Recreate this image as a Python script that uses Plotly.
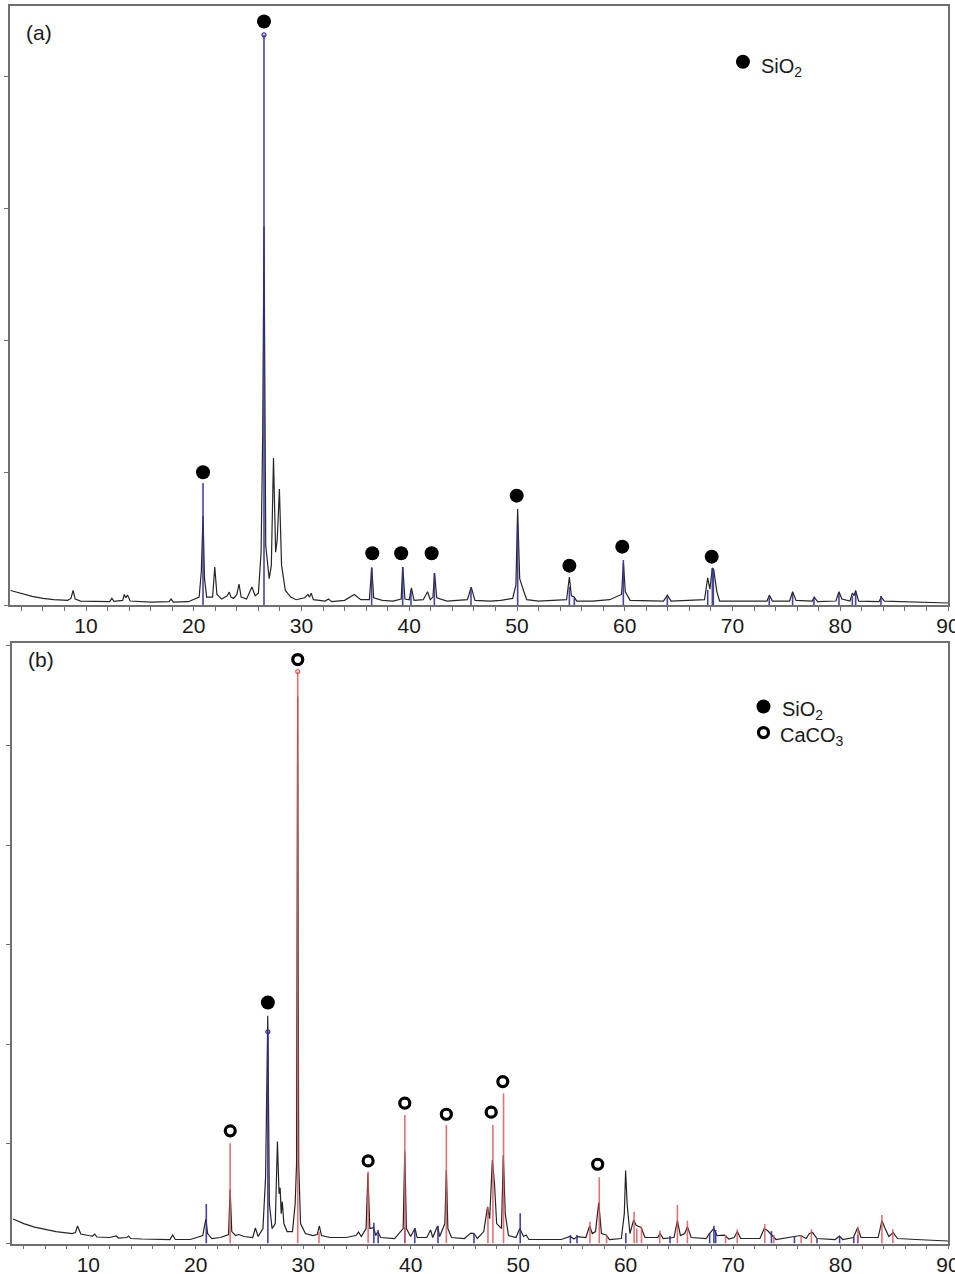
import plotly.graph_objects as go

# ---------------- Panel (a) data ----------------
PROFILE_A_2THETA = [
    3.0, 4.0, 5.0, 6.0, 7.0, 8.3, 8.6, 8.8, 9.0, 9.5,
    11.0, 12.2, 12.4, 12.6, 13.4, 13.55, 13.7, 13.85, 14.1, 16.0,
    17.7, 17.9, 18.1, 19.5, 20.5, 20.7, 20.86, 21.0, 21.2, 21.75,
    21.95, 22.15, 22.6, 23.1, 23.3, 23.45, 23.7, 24.0, 24.2, 24.4,
    24.9, 25.4, 25.7, 26.0, 26.25, 26.4, 26.52, 26.68, 27.0, 27.2,
    27.4, 27.6, 27.75, 27.95, 28.15, 28.5, 29.0, 29.5, 30.3, 30.6,
    30.75, 30.9, 31.1, 32.2, 32.5, 32.8, 34.0, 34.9, 35.5, 36.3,
    36.52, 36.7, 37.5, 38.5, 39.25, 39.4, 39.6, 40.0, 40.2, 40.45,
    41.3, 41.7, 41.95, 42.2, 42.35, 42.55, 43.5, 45.4, 45.75, 46.1,
    47.5, 48.5, 49.6, 49.9, 50.06, 50.25, 50.6, 50.9, 52.0, 54.6,
    54.86, 55.05, 55.3, 55.55, 57.0, 58.6, 59.7, 59.88, 60.05, 60.5,
    63.6, 63.95, 64.3, 67.4, 67.7, 67.9, 68.13, 68.25, 68.55, 68.8,
    73.2, 73.42, 73.7, 75.3, 75.58, 75.9, 77.4, 77.58, 77.9, 79.6,
    79.88, 80.15, 80.9, 81.12, 81.28, 81.43, 81.7, 83.6, 83.8, 84.1,
    90.0,
]
PROFILE_A_COUNTS = [
    110, 85, 65, 50, 40, 35, 50, 110, 45, 30,
    25, 25, 50, 28, 35, 80, 55, 75, 30, 22,
    25, 45, 22, 25, 60, 250, 674, 200, 60, 60,
    288, 80, 45, 70, 98, 60, 50, 80, 159, 60,
    45, 136, 70, 90, 400, 1300, 2864, 450, 200, 300,
    1114, 400, 500, 879, 300, 110, 60, 40, 55, 80,
    60, 90, 40, 30, 45, 25, 35, 80, 40, 40,
    285, 55, 35, 30, 45, 288, 45, 40, 130, 35,
    40, 100, 40, 60, 242, 55, 30, 40, 136, 35,
    30, 35, 50, 150, 727, 200, 110, 40, 30, 40,
    212, 70, 60, 30, 30, 40, 80, 318, 100, 35,
    30, 75, 30, 40, 205, 120, 280, 270, 100, 30,
    30, 75, 30, 30, 100, 35, 30, 60, 25, 30,
    100, 45, 30, 90, 70, 110, 30, 25, 60, 30,
    15,
]
SIO2_REF_A_2THETA = [20.86, 26.52, 36.51, 39.39, 40.16, 42.33, 45.73, 50.06, 54.86, 55.32, 59.87,
                     63.95, 67.7, 68.13, 68.22, 73.41, 75.58, 77.56, 79.88, 81.12, 81.43, 83.78]
SIO2_REF_A_COUNTS = [924, 4318, 280, 288, 114, 242, 129, 606, 136, 53, 341,
                     60, 114, 280, 265, 60, 83, 53, 83, 68, 91, 68]
SIO2_MARK_A_2THETA = [20.86, 26.52, 36.57, 39.25, 42.08, 49.97, 54.86, 59.77, 68.07]
SIO2_MARK_A_COUNTS = [1005, 4419, 392, 392, 392, 828, 298, 442, 366]

# ---------------- Panel (b) data ----------------
PROFILE_B_2THETA = [
    3.0, 4.0, 5.0, 6.0, 7.0, 8.5, 8.8, 9.0, 9.3, 10.0,
    10.4, 10.6, 10.8, 12.0, 12.45, 12.6, 12.8, 13.6, 13.75, 13.95,
    15.0, 17.6, 17.85, 18.1, 19.5, 20.65, 20.82, 20.95, 21.1, 21.5,
    22.3, 23.05, 23.2, 23.35, 23.7, 24.0, 24.5, 25.3, 25.55, 25.8,
    26.25, 26.5, 26.7, 26.85, 27.1, 27.4, 27.6, 27.75, 27.85, 27.95,
    28.05, 28.2, 28.5, 29.0, 29.25, 29.38, 29.48, 29.58, 29.75, 30.2,
    30.9, 31.3, 31.5, 31.7, 32.5, 34.0, 34.9, 35.15, 35.4, 35.85,
    36.02, 36.2, 36.55, 36.75, 36.95, 37.2, 38.5, 39.3, 39.45, 39.6,
    40.0, 40.4, 40.6, 41.5, 41.85, 42.05, 42.5, 42.7, 43.18, 43.32,
    43.46, 43.8, 45.0, 45.6, 45.9, 46.2, 46.8, 47.15, 47.35, 47.6,
    47.8, 48.0, 48.45, 48.62, 48.8, 49.1, 49.8, 50.15, 50.5, 50.75,
    51.0, 54.0, 54.85, 55.2, 55.5, 56.3, 56.65, 56.9, 57.2, 57.5,
    57.75, 58.2, 58.5, 59.6, 59.88, 60.0, 60.15, 60.4, 60.75, 61.0,
    61.45, 61.8, 63.0, 63.2, 63.5, 64.5, 64.82, 65.1, 65.5, 65.75,
    66.1, 67.5, 67.8, 68.2, 68.5, 69.2, 69.6, 70.1, 70.4, 70.7,
    72.5, 72.9, 73.2, 73.6, 74.0, 75.7, 76.3, 76.8, 77.1, 77.4,
    77.8, 79.5, 79.9, 80.2, 81.2, 81.6, 81.9, 83.5, 83.85, 84.15,
    84.5, 84.9, 85.3, 87.0, 90.0,
]
PROFILE_B_COUNTS = [
    246, 200, 165, 140, 120, 100, 110, 176, 95, 80,
    75, 95, 65, 60, 70, 75, 55, 60, 75, 50,
    45, 40, 85, 40, 40, 80, 180, 246, 100, 50,
    60, 90, 545, 120, 80, 90, 70, 60, 156, 70,
    150, 671, 2286, 400, 150, 200, 1023, 500, 560, 300,
    420, 200, 120, 120, 400, 800, 5492, 800, 200, 100,
    80, 90, 176, 80, 60, 60, 80, 115, 70, 150,
    703, 150, 160, 80, 120, 60, 50, 150, 923, 150,
    70, 153, 60, 60, 136, 60, 176, 70, 200, 739,
    150, 60, 50, 105, 100, 50, 120, 367, 250, 839,
    598, 200, 150, 889, 300, 80, 60, 150, 70, 85,
    40, 40, 70, 45, 70, 60, 176, 100, 120, 410,
    100, 85, 40, 50, 300, 732, 387, 100, 236, 180,
    160, 60, 60, 100, 50, 60, 229, 80, 100, 169,
    60, 50, 100, 150, 80, 85, 45, 60, 120, 50,
    50, 150, 130, 90, 40, 70, 80, 50, 100, 110,
    50, 40, 75, 40, 60, 160, 60, 60, 229, 150,
    70, 110, 50, 40, 25,
]
SIO2_REF_B_2THETA = [20.98, 26.71, 36.57, 36.97, 39.45, 40.38, 42.54, 45.89, 50.19, 54.86, 55.48,
                     60.02, 64.13, 67.82, 68.22, 68.38, 73.57, 75.71, 77.81, 79.91, 81.23, 81.6]
SIO2_REF_B_COUNTS = [397, 2126, 209, 136, 160, 153, 176, 105, 303, 85, 85,
                     105, 75, 105, 179, 135, 125, 75, 45, 65, 65, 85]
CACO3_REF_B_2THETA = [23.2, 29.49, 31.47, 36.04, 39.45, 43.32, 47.19, 47.65, 48.64, 56.68, 57.55,
                      58.23, 60.79, 61.04, 61.48, 63.18, 64.82, 65.75, 69.3, 70.39, 72.95, 73.79,
                      76.33, 77.29, 81.62, 83.85, 84.87]
CACO3_REF_B_COUNTS = [1007, 5743, 119, 722, 1291, 1191, 367, 1191, 1509, 219, 665,
                      85, 320, 150, 169, 129, 387, 229, 85, 143, 196, 85,
                      85, 143, 169, 286, 143]
SIO2_MARK_B_2THETA = [26.71]
SIO2_MARK_B_COUNTS = [2420]
CACO3_MARK_B_2THETA = [23.21, 29.49, 36.04, 39.45, 43.32, 47.49, 48.57, 57.40]
CACO3_MARK_B_COUNTS = [1131, 5864, 829, 1409, 1298, 1319, 1626, 796]

X_TICKS = [10, 20, 30, 40, 50, 60, 70, 80, 90]

BLACK = "#262626"
BLUE = "#30309a"
RED = "#e05a5a"
FRAME = "#707070"
FONT = "Liberation Sans, Arial, sans-serif"

W, H = 955, 1274


def sticks(xs, ys):
    sx, sy = [], []
    for x, y in zip(xs, ys):
        sx += [x, x, None]
        sy += [0, y, None]
    return sx, sy


fig = go.Figure()

# ---- panel a ----
fig.add_trace(go.Scatter(x=PROFILE_A_2THETA, y=PROFILE_A_COUNTS, mode="lines",
                         line=dict(color=BLACK, width=1.2), xaxis="x", yaxis="y"))
sx, sy = sticks(SIO2_REF_A_2THETA, SIO2_REF_A_COUNTS)
fig.add_trace(go.Scatter(x=sx, y=sy, mode="lines", line=dict(color=BLUE, width=1.6),
                         opacity=0.9, xaxis="x", yaxis="y"))
imax = SIO2_REF_A_COUNTS.index(max(SIO2_REF_A_COUNTS))
fig.add_trace(go.Scatter(x=[SIO2_REF_A_2THETA[imax]], y=[SIO2_REF_A_COUNTS[imax]], mode="markers",
                         marker=dict(symbol="circle-open", size=4, color=BLUE, line=dict(width=1.2)),
                         xaxis="x", yaxis="y"))
fig.add_trace(go.Scatter(x=SIO2_MARK_A_2THETA, y=SIO2_MARK_A_COUNTS, mode="markers",
                         marker=dict(symbol="circle", size=14, color="black"), xaxis="x", yaxis="y"))
# legend a
fig.add_trace(go.Scatter(x=[70.97], y=[4114], mode="markers",
                         marker=dict(symbol="circle", size=14, color="black"), xaxis="x", yaxis="y"))

# ---- panel b ----
fig.add_trace(go.Scatter(x=PROFILE_B_2THETA, y=PROFILE_B_COUNTS, mode="lines",
                         line=dict(color=BLACK, width=1.2), xaxis="x2", yaxis="y2"))
sx, sy = sticks(SIO2_REF_B_2THETA, SIO2_REF_B_COUNTS)
fig.add_trace(go.Scatter(x=sx, y=sy, mode="lines", line=dict(color=BLUE, width=1.6),
                         opacity=0.9, xaxis="x2", yaxis="y2"))
sx, sy = sticks(CACO3_REF_B_2THETA, CACO3_REF_B_COUNTS)
fig.add_trace(go.Scatter(x=sx, y=sy, mode="lines", line=dict(color=RED, width=1.6),
                         opacity=0.85, xaxis="x2", yaxis="y2"))
ib = SIO2_REF_B_COUNTS.index(max(SIO2_REF_B_COUNTS))
ic = CACO3_REF_B_COUNTS.index(max(CACO3_REF_B_COUNTS))
fig.add_trace(go.Scatter(x=[SIO2_REF_B_2THETA[ib]], y=[SIO2_REF_B_COUNTS[ib]], mode="markers",
                         marker=dict(symbol="circle-open", size=4, color=BLUE, line=dict(width=1.2)),
                         xaxis="x2", yaxis="y2"))
fig.add_trace(go.Scatter(x=[CACO3_REF_B_2THETA[ic]], y=[CACO3_REF_B_COUNTS[ic]], mode="markers",
                         marker=dict(symbol="circle-open", size=4, color=RED, line=dict(width=1.2)),
                         xaxis="x2", yaxis="y2"))
fig.add_trace(go.Scatter(x=SIO2_MARK_B_2THETA, y=SIO2_MARK_B_COUNTS, mode="markers",
                         marker=dict(symbol="circle", size=14, color="black"), xaxis="x2", yaxis="y2"))
fig.add_trace(go.Scatter(x=CACO3_MARK_B_2THETA, y=CACO3_MARK_B_COUNTS, mode="markers",
                         marker=dict(symbol="circle-open", size=10, color="black", line=dict(width=3.2)),
                         xaxis="x2", yaxis="y2"))
# legend b
fig.add_trace(go.Scatter(x=[72.83], y=[5392], mode="markers",
                         marker=dict(symbol="circle", size=14, color="black"), xaxis="x2", yaxis="y2"))
fig.add_trace(go.Scatter(x=[72.83], y=[5131], mode="markers",
                         marker=dict(symbol="circle-open", size=10, color="black", line=dict(width=3.2)),
                         xaxis="x2", yaxis="y2"))

xaxis_common = dict(range=[2.9, 90], tickvals=X_TICKS, ticks="outside", ticklen=4, tickwidth=1,
                    tickcolor=FRAME, showline=True, linecolor=FRAME, linewidth=1.8, mirror=True,
                    showgrid=False, zeroline=False, ticklabeloverflow="allow", ticklabelstandoff=-3,
                    automargin=False,
                    minor=dict(dtick=2, tick0=0, ticks="outside", ticklen=4, tickcolor=FRAME),
                    tickfont=dict(family=FONT, size=21, color="#1a1a1a"))
yaxis_common = dict(ticks="outside", ticklen=4, tickwidth=1, tickcolor=FRAME, dtick=1000,
                    showticklabels=False, showline=True, linecolor=FRAME, linewidth=1.8,
                    mirror=True, showgrid=False, zeroline=False, automargin=False)

fig.update_layout(
    width=W, height=H, margin=dict(l=0, r=0, t=0, b=0, autoexpand=False),
    paper_bgcolor="white", plot_bgcolor="white", showlegend=False,
    xaxis=dict(domain=[9.5 / W, 948 / W], anchor="y", **xaxis_common),
    yaxis=dict(domain=[1 - 605 / H, 1 - 5.5 / H], anchor="x", range=[0, 4540], **yaxis_common),
    xaxis2=dict(domain=[12 / W, 948 / W], anchor="y2", **xaxis_common),
    yaxis2=dict(domain=[1 - 1243.5 / H, 1 - 643 / H], anchor="x2", range=[0, 6030], **yaxis_common),
    annotations=[
        dict(text="(a)", xref="paper", yref="paper", x=24 / W, y=1 - 32 / H, xanchor="left",
             yanchor="middle", showarrow=False, font=dict(family=FONT, size=21, color="#1a1a1a")),
        dict(text="(b)", xref="paper", yref="paper", x=26 / W, y=1 - 660 / H, xanchor="left",
             yanchor="middle", showarrow=False, font=dict(family=FONT, size=21, color="#1a1a1a")),
        dict(text="SiO<sub>2</sub>", xref="x", yref="y", x=72.5, y=4070, xanchor="left",
             yanchor="middle", showarrow=False, font=dict(family=FONT, size=20, color="#1a1a1a")),
        dict(text="SiO<sub>2</sub>", xref="x2", yref="y2", x=74.4, y=5350, xanchor="left",
             yanchor="middle", showarrow=False, font=dict(family=FONT, size=20, color="#1a1a1a")),
        dict(text="CaCO<sub>3</sub>", xref="x2", yref="y2", x=74.2, y=5090, xanchor="left",
             yanchor="middle", showarrow=False, font=dict(family=FONT, size=20, color="#1a1a1a")),
    ],
)

fig.write_html("out.html")
